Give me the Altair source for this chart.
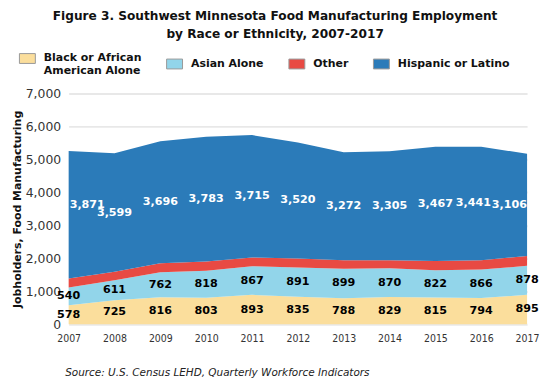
import altair as alt
import pandas as pd

years = [2007, 2008, 2009, 2010, 2011, 2012, 2013, 2014, 2015, 2016, 2017]
black = [578, 725, 816, 803, 893, 835, 788, 829, 815, 794, 895]
asian = [540, 611, 762, 818, 867, 891, 899, 870, 822, 866, 878]
other = [270, 255, 276, 286, 265, 270, 259, 244, 283, 286, 295]
hispanic = [3871, 3599, 3696, 3783, 3715, 3520, 3272, 3305, 3467, 3441, 3106]

groups = ["Black or African American Alone", "Asian Alone", "Other", "Hispanic or Latino"]
colors = ["#FBDE9C", "#92D5EA", "#E84A43", "#2B7BB9"]
label_colors = ["#000000", "#000000", None, "#FFFFFF"]

rows = []
for gi, (g, vals) in enumerate(zip(groups, [black, asian, other, hispanic])):
    for y, v in zip(years, vals):
        rows.append({"year": y, "group": g, "value": v, "order": gi,
                     "show": label_colors[gi] is not None,
                     "lc": label_colors[gi] or "#000000"})
df = pd.DataFrame(rows)

FONT = "DejaVu Sans"

base = alt.Chart(df)
xscale = alt.Scale(domain=[2007, 2017], nice=False, zero=False)
yscale = alt.Scale(domain=[0, 7000], nice=False)

xaxis = alt.Axis(values=years, format="d", grid=False, domain=False, ticks=False,
                 labelFont="DejaVu Sans Condensed", labelFontSize=10.5, labelColor="#333333",
                 labelPadding=9, labelFlush=False,
                 title="Source: U.S. Census LEHD, Quarterly Workforce Indicators",
                 titleFont=FONT, titleFontSize=10.5, titleFontStyle="italic",
                 titleFontWeight="normal", titleColor="#222222",
                 titleAnchor="start", titleAlign="left", titleX=-4, titlePadding=24)
yaxis = alt.Axis(values=[0, 1000, 2000, 3000, 4000, 5000, 6000, 7000], format=",.0f",
                 domain=False, ticks=False, gridColor="#E8E8E8", gridWidth=2,
                 labelFont=FONT, labelFontSize=12.5, labelColor="#333333", labelPadding=8,
                 title="Jobholders, Food Manufacturing", titleFont=FONT,
                 titleFontSize=11, titleFontWeight="bold", titleColor="#111111",
                 titlePadding=3)

area = base.mark_area(opacity=1).encode(
    x=alt.X("year:Q", scale=xscale, axis=xaxis),
    y=alt.Y("sum(value):Q", stack="zero", scale=yscale, axis=yaxis),
    color=alt.Color("group:N", scale=alt.Scale(domain=groups, range=colors),
                    sort=groups,
                    legend=alt.Legend(title=None, orient="none", direction="horizontal",
                                      legendX=-50, legendY=-44, columns=4,
                                      symbolType="M-1,-0.62H1V0.62H-1Z", symbolSize=256,
                                      symbolStrokeWidth=1, symbolStrokeColor="#999999",
                                      labelFont=FONT, labelFontSize=11, labelFontWeight="bold",
                                      labelColor="#111111", columnPadding=22, labelOffset=8,
                                      symbolOffset=0, labelLimit=200,
                                      labelExpr="datum.label == 'Black or African American Alone' ? ['Black or African', 'American Alone'] : datum.label")),
    order=alt.Order("order:Q", sort="ascending"),
)

stacked = base.transform_stack(
    stack="value", groupby=["year"], as_=["y0", "y1"], sort=[alt.SortField("order", "ascending")]
).transform_calculate(
    mid="(datum.y0 + datum.y1) / 2"
).transform_filter("datum.show")

enc = dict(
    x=alt.X("year:Q", scale=xscale, axis=xaxis),
    y=alt.Y("mid:Q", scale=yscale, axis=yaxis),
    text=alt.Text("value:Q", format=","),
    color=alt.Color("lc:N", scale=None),
)
tstyle = dict(font=FONT, fontSize=11.2, fontWeight="bold", baseline="middle")

# labels of the lower bands, centred on each year
low_labels = stacked.transform_filter("datum.order < 3").mark_text(align="center", **tstyle).encode(**enc)
# Hispanic labels: interior years centred, edge years kept inside the area
his_mid = stacked.transform_filter("datum.order == 3 && datum.year > 2007 && datum.year < 2016") \
    .mark_text(align="center", **tstyle).encode(**enc)
his_2016 = stacked.transform_filter("datum.order == 3 && datum.year == 2016") \
    .mark_text(align="center", dx=-8, **tstyle).encode(**enc)
his_first = stacked.transform_filter("datum.order == 3 && datum.year == 2007") \
    .mark_text(align="left", dx=1, dy=-10, **tstyle).encode(**enc)
his_last = stacked.transform_filter("datum.order == 3 && datum.year == 2017") \
    .mark_text(align="right", dx=0, **tstyle).encode(**enc)

chart = alt.layer(area, low_labels, his_mid, his_2016, his_first, his_last).properties(
    width=461, height=232,
    padding={"left": 3, "top": 0, "right": 0, "bottom": 0},
    title=alt.TitleParams(
        text=["Figure 3. Southwest Minnesota Food Manufacturing Employment",
              "by Race or Ethnicity, 2007-2017"],
        font=FONT, fontSize=12.2, fontWeight="bold", color="#111111",
        anchor="middle", frame="bounds", lineHeight=18, offset=10),
).configure_view(stroke=None)

chart.save("out.html", embed_options={"renderer": "svg", "actions": False})
